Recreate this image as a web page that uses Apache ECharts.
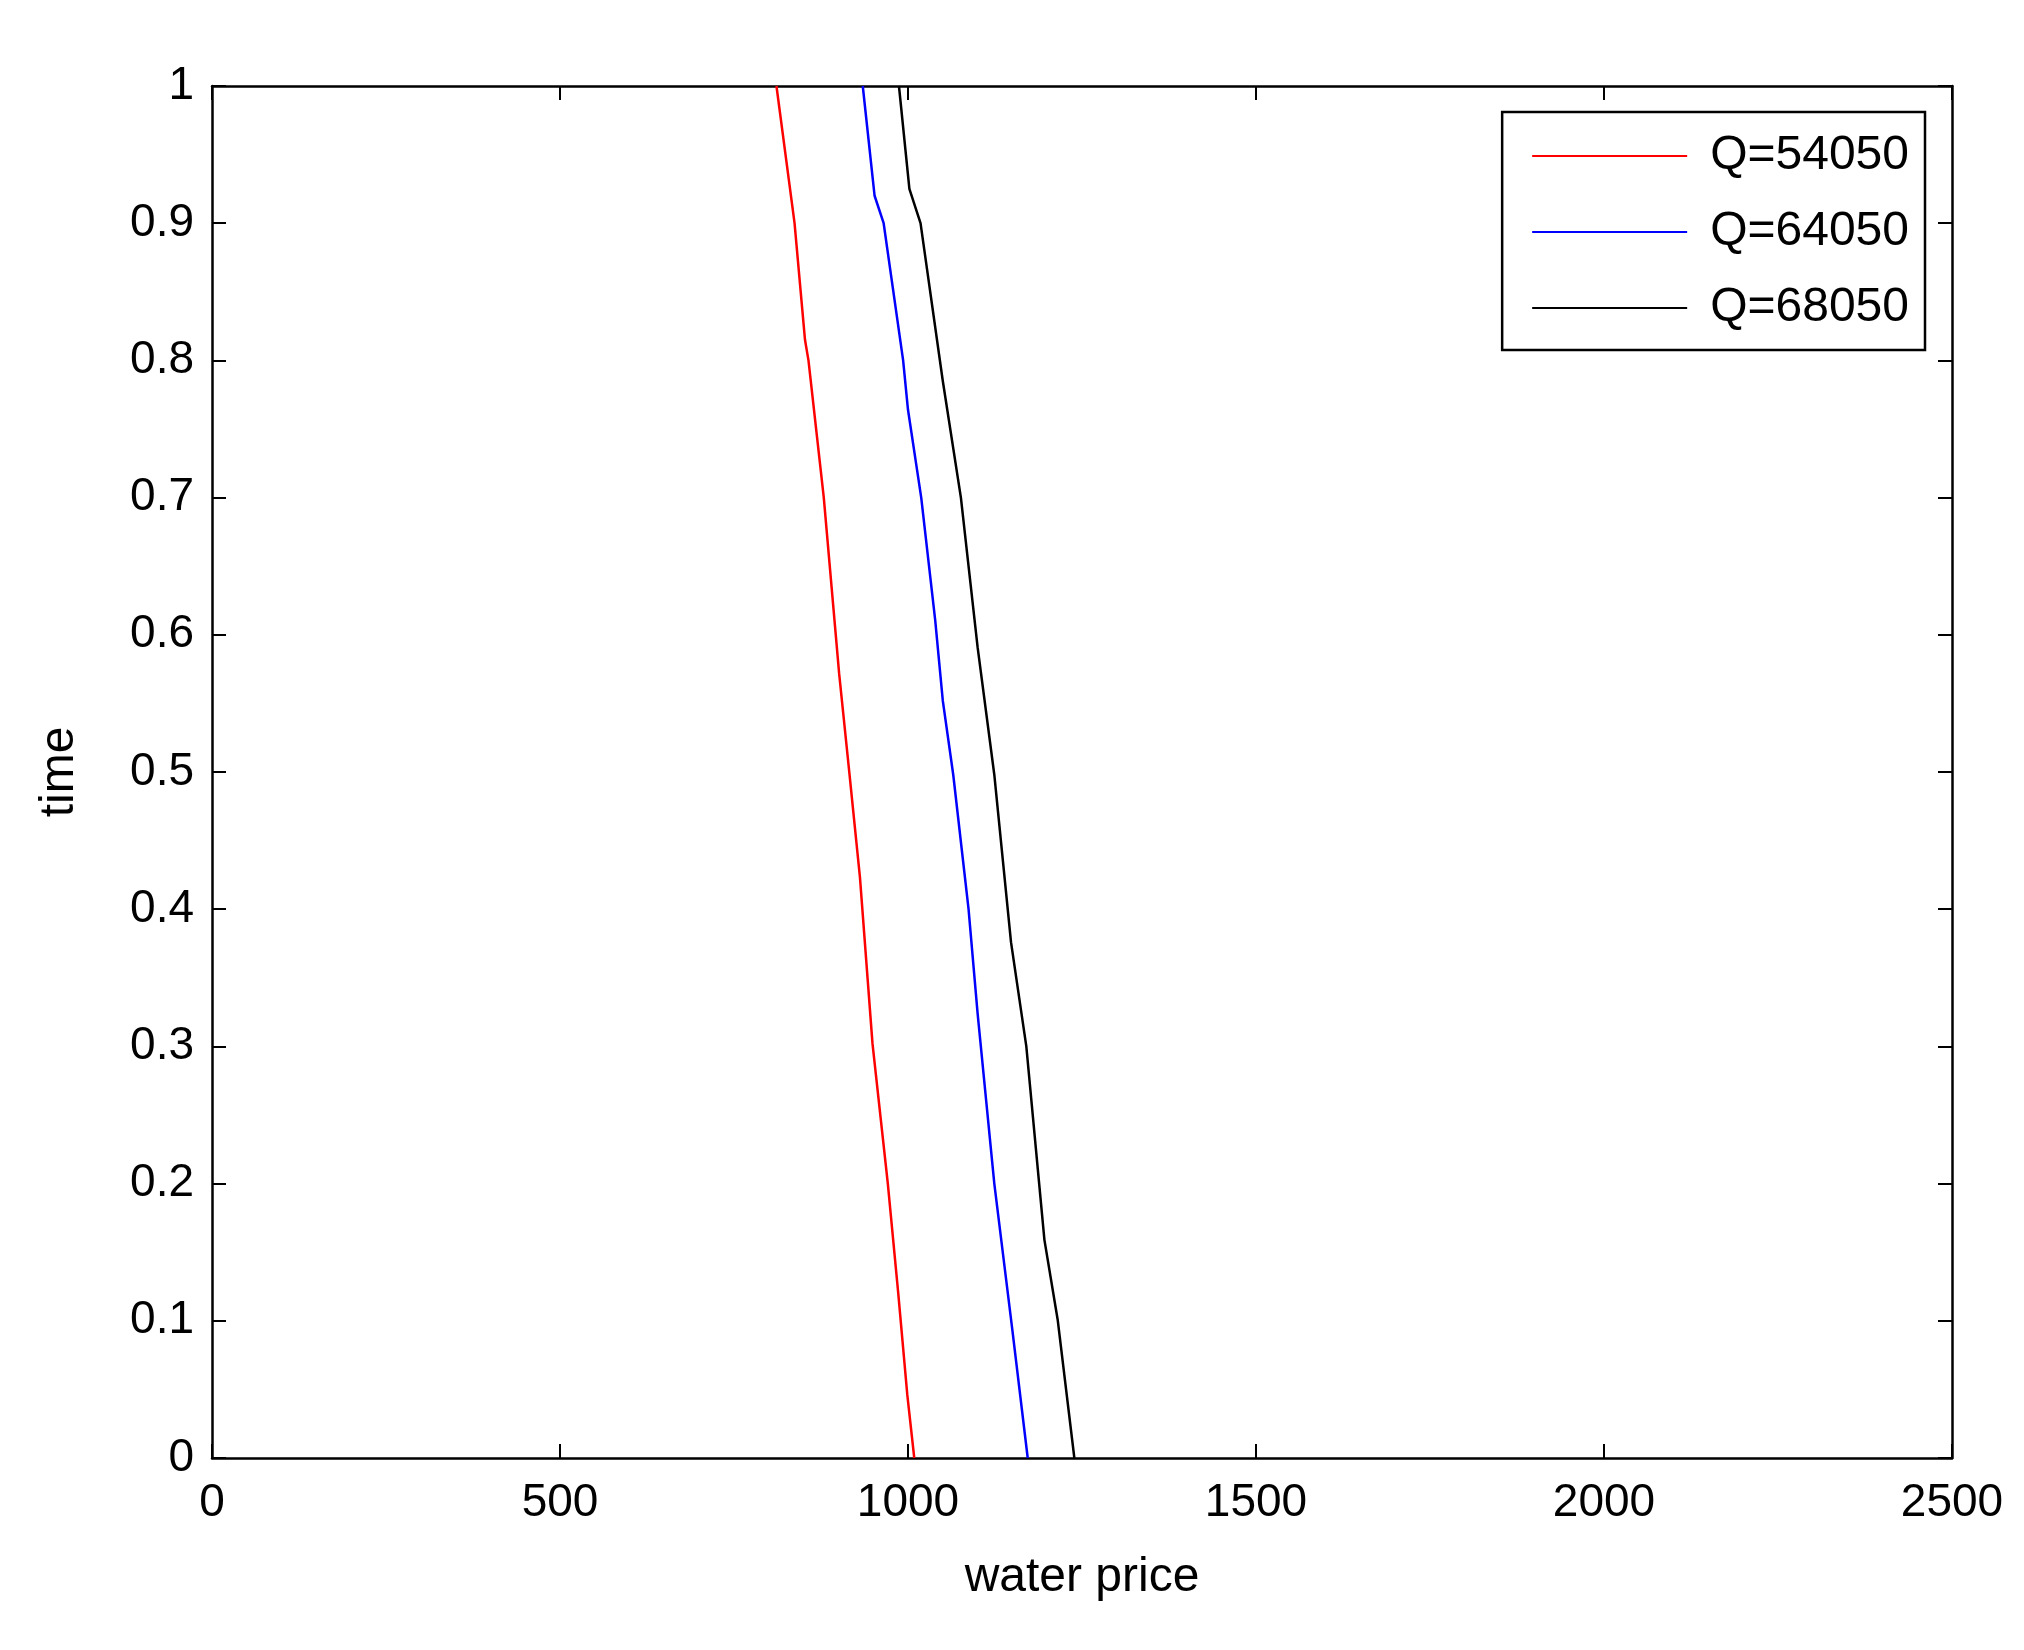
<!DOCTYPE html>
<html><head><meta charset="utf-8">
<script src="https://cdn.jsdelivr.net/npm/echarts@6/dist/echarts.min.js"></script>
<style>html,body{margin:0;background:#fff}#c{width:2024px;height:1650px}</style>
</head><body><div id="c"></div>
<script>
var seriesNames = ['Q=54050', 'Q=64050', 'Q=68050'];
var seriesColors = ['#ff0000', '#0000ff', '#000000'];
// [water price, time]
var q54050 = [[811,1],[837,0.9],[852,0.815],[857,0.8],[879,0.7],[901,0.572],[916,0.498],[931,0.423],[949,0.302],[971,0.2],[986,0.12],[999,0.046],[1009,0]];
var q64050 = [[935,1],[952,0.92],[965,0.9],[993,0.8],[1000,0.764],[1019,0.7],[1039,0.611],[1050,0.552],[1065,0.498],[1087,0.4],[1100,0.324],[1124,0.2],[1150,0.093],[1172,0]];
var q68050 = [[987,1],[1002,0.925],[1018,0.9],[1050,0.785],[1076,0.7],[1100,0.591],[1124,0.498],[1148,0.376],[1170,0.3],[1196,0.159],[1215,0.101],[1239,0]];
var allData = [q54050, q64050, q68050];

var font = 'Liberation Sans';
var chart = echarts.init(document.getElementById('c'));
function ax(extra){
  return Object.assign({
    axisLine:{show:true,onZero:false,lineStyle:{color:'#000',width:2.5}},
    axisTick:{show:true,inside:true,length:14,lineStyle:{color:'#000',width:2}},
    splitLine:{show:false}
  }, extra);
}
chart.setOption({
  animation:false,
  grid:{left:212,right:72,top:86,bottom:192},
  legend:{
    orient:'vertical',right:99,top:112,
    data:seriesNames,
    itemWidth:155,itemHeight:2,itemGap:28,
    padding:[20,16,18,30],
    borderColor:'#000',borderWidth:2.5,backgroundColor:'#fff',
    textStyle:{fontFamily:font,fontSize:48,color:'#000',padding:[0,0,0,18]},
    icon:'rect'
  },
  xAxis:[
    ax({type:'value',min:0,max:2500,interval:500,position:'bottom',
      name:'water price',nameLocation:'middle',nameGap:96,
      nameTextStyle:{fontFamily:font,fontSize:48,color:'#000'},
      axisLabel:{fontFamily:font,fontSize:46,color:'#000',margin:22,formatter:function(v){return String(v);}}}),
    ax({type:'value',min:0,max:2500,interval:500,position:'top',axisLabel:{show:false}})
  ],
  yAxis:[
    ax({type:'value',min:0,max:1,interval:0.1,position:'left',
      name:'time',nameLocation:'middle',nameGap:128,
      nameTextStyle:{fontFamily:font,fontSize:48,color:'#000'},
      axisLabel:{fontFamily:font,fontSize:46,color:'#000',margin:18,
        formatter:function(v){return v===0||v===1?String(v):v.toFixed(1);}}}),
    ax({type:'value',min:0,max:1,interval:0.1,position:'right',axisLabel:{show:false}})
  ],
  series:seriesNames.map(function(n,i){
    return {name:n,type:'line',data:allData[i],showSymbol:false,symbol:'none',
      lineStyle:{color:seriesColors[i],width:2.5},itemStyle:{color:seriesColors[i]}};
  })
});
</script></body></html>
